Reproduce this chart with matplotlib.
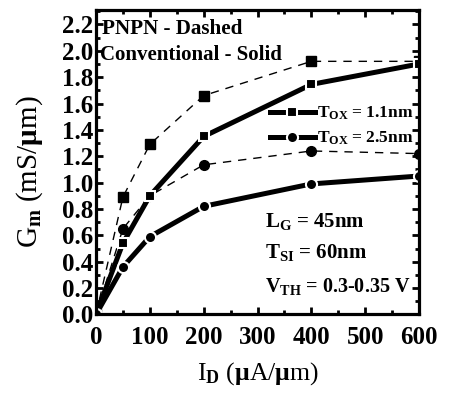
import numpy as np
import matplotlib
matplotlib.use('Agg')
import matplotlib.pyplot as plt
from matplotlib.ticker import MultipleLocator, FormatStrFormatter

plt.rcParams['font.family'] = 'Liberation Serif'
plt.rcParams['font.weight'] = 'bold'
plt.rcParams['mathtext.fontset'] = 'custom'
plt.rcParams['mathtext.rm'] = 'Liberation Serif:bold'
plt.rcParams['mathtext.it'] = 'Liberation Serif:bold'
plt.rcParams['mathtext.bf'] = 'Liberation Serif:bold'

# drain current (uA/um)
i_d = [0, 50, 100, 200, 400, 600]
# transconductance (mS/um)
pnpn_11 = [0, 0.89, 1.29, 1.66, 1.92, 1.92]
conv_11 = [0, 0.54, 0.90, 1.35, 1.745, 1.90]
pnpn_25 = [0, 0.65, 0.90, 1.135, 1.24, 1.22]
conv_25 = [0, 0.36, 0.59, 0.82, 0.99, 1.05]

fig = plt.figure(figsize=(4.56, 3.97), dpi=100)
ax = fig.add_axes([0.2105, 0.208, 0.7085, 0.767])

# dashed PNPN curves
ax.plot(i_d, pnpn_11, 'k--', lw=1, marker='s', ms=6.5, dashes=(6, 5))
ax.plot(i_d, pnpn_25, 'k--', lw=1, marker='o', ms=7, dashes=(6, 5))
# solid conventional curves
ax.plot(i_d, conv_11, 'k-', lw=3.6, marker='s', ms=7.5, mec='white', mew=1.5,
        label='T$_{\\mathrm{OX}}$ = 1.1nm')
ax.plot(i_d, conv_25, 'k-', lw=3.6, marker='o', ms=8, mec='white', mew=1.5,
        label='T$_{\\mathrm{OX}}$ = 2.5nm')

ax.set_xlim(0, 600)
ax.set_ylim(0, 2.31)
ax.xaxis.set_major_locator(MultipleLocator(100))
ax.xaxis.set_minor_locator(MultipleLocator(50))
ax.yaxis.set_major_locator(MultipleLocator(0.2))
ax.yaxis.set_minor_locator(MultipleLocator(0.1))
ax.yaxis.set_major_formatter(FormatStrFormatter('%.1f'))
ax.tick_params(which='both', direction='in', top=True, right=True, width=2)
ax.tick_params(which='major', length=5, labelsize=18)
ax.tick_params(axis='x', which='major', pad=8)
ax.tick_params(axis='y', which='major', pad=2)
ax.tick_params(which='minor', length=3)
for s in ax.spines.values():
    s.set_linewidth(2.3)

ax.set_xlabel('I$_{\\mathrm{D}}$ ($\\mu$A/$\\mu$m)', fontsize=18.5, va='top')
ax.xaxis.set_label_coords(0.5, -0.15)
ax.set_ylabel('G$_{\\mathrm{m}}$ (mS/$\\mu$m)', fontsize=21)
ax.yaxis.set_label_coords(-0.158, 0.47)

ax.text(0.018, 0.97, 'PNPN - Dashed', transform=ax.transAxes, fontsize=15.2,
        va='top', ha='left')
ax.text(0.013, 0.885, 'Conventional - Solid', transform=ax.transAxes,
        fontsize=15, va='top', ha='left')

ax.text(313, 0.667, 'L$_{\\mathrm{G}}$ = 45nm', fontsize=15)
ax.text(313, 0.43, 'T$_{\\mathrm{SI}}$ = 60nm', fontsize=15)
ax.text(313, 0.17, 'V$_{\\mathrm{TH}}$ = 0.3-0.35 V', fontsize=14.5)

ax.legend(loc='upper right', bbox_to_anchor=(1.03, 0.74), frameon=False,
          fontsize=12.5, handlelength=2.6, handletextpad=0.1, labelspacing=0.45)

fig.savefig('out.png', dpi=100)
